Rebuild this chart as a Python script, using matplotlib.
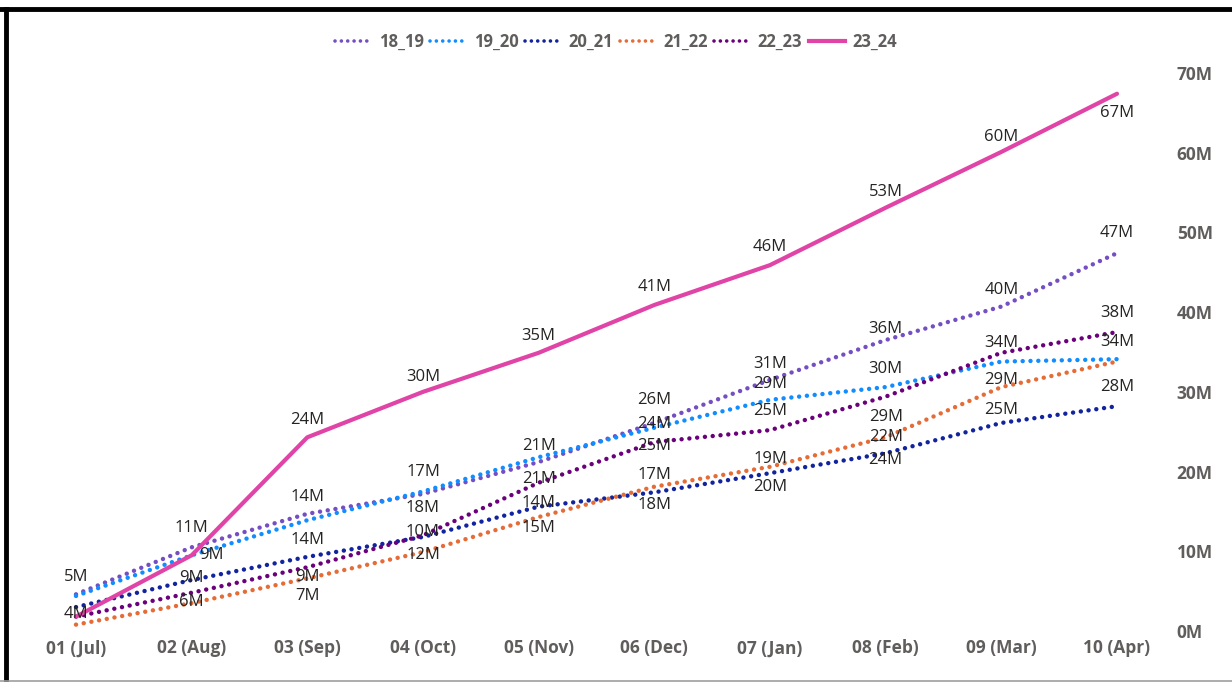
import matplotlib
matplotlib.use('Agg')
import matplotlib.pyplot as plt
from matplotlib.lines import Line2D

months = ['01 (Jul)', '02 (Aug)', '03 (Sep)', '04 (Oct)', '05 (Nov)',
          '06 (Dec)', '07 (Jan)', '08 (Feb)', '09 (Mar)', '10 (Apr)']

# values in millions
s18_19 = [4.6, 10.5, 14.7, 17.2, 21.2, 26.1, 31.5, 36.5, 40.7, 47.4]
s19_20 = [4.4, 9.5, 13.9, 17.5, 21.8, 25.5, 29.0, 30.6, 33.8, 34.1]
s20_21 = [3.0, 6.4, 9.3, 11.8, 15.6, 17.4, 19.8, 22.3, 26.1, 28.2]
s21_22 = [0.8, 3.5, 6.6, 9.9, 14.3, 18.1, 20.6, 24.3, 30.6, 33.8]
s22_23 = [1.8, 4.8, 8.0, 12.0, 18.6, 23.7, 25.2, 29.4, 34.9, 37.5]
s23_24 = [1.8, 9.5, 24.3, 30.0, 34.9, 40.9, 45.9, 53.1, 60.1, 67.4]

# data labels as shown (None = hidden by the chart)
lab18_19 = ['4M', '11M', '14M', '18M', '21M', '26M', '31M', '36M', '40M', '47M']
lab19_20 = ['5M', None, None, '17M', '21M', '24M', '29M', '30M', None, '34M']
lab20_21 = [None, '9M', '14M', '10M', '14M', '18M', '20M', '24M', '25M', '28M']
lab21_22 = [None, None, '7M', '12M', '15M', '17M', '19M', '22M', '29M', None]
lab22_23 = [None, '6M', '9M', None, None, '25M', '25M', '29M', '34M', '38M']
lab23_24 = [None, '9M', '24M', '30M', '35M', '41M', '46M', '53M', '60M', '67M']

yticks = [0, 10, 20, 30, 40, 50, 60, 70]

# label offsets in pixels (dx, dy with dy downward)
off18_19 = [(0, 20), (0, -19), (0, -17), (0, 14), (0, 17), (0, -23), (0, -16), (0, -11), (0, -17), (0, -20)]
off19_20 = [(0, -19), None, None, (0, -20), (0, -11), (0, -4), (0, -16), (0, -18), None, (0, -17)]
off20_21 = [None, (0, -2), (0, -17), (0, -5), (0, -4), (0, 13), (0, 14), (0, 7), (0, -13), (0, -19)]
off21_22 = [None, None, (0, 18), (0, 3), (0, 11), (0, -12), (0, -8), (0, 0), (0, -7), None]
off22_23 = [None, (0, 9), (0, 10), None, None, (0, 4), (0, -19), (0, 20), (0, -10), (0, -19)]
off23_24 = [None, (20, 0), (0, -17), (0, -15), (0, -17), (0, -18), (0, -18), (0, -16), (0, -15), (0, 19)]

series = [
    ('18_19', s18_19, lab18_19, off18_19, '#744EC2', 'dot'),
    ('19_20', s19_20, lab19_20, off19_20, '#118DFF', 'dot'),
    ('20_21', s20_21, lab20_21, off20_21, '#12239E', 'dot'),
    ('21_22', s21_22, lab21_22, off21_22, '#E66C37', 'dot'),
    ('22_23', s22_23, lab22_23, off22_23, '#6B007B', 'dot'),
    ('23_24', s23_24, lab23_24, off23_24, '#E044A7', 'solid'),
]

FONT = 'Open Sans'
GREY = '#605E5C'
DOTS = (0, (0.01, 1.75))

fig = plt.figure(figsize=(12.32, 6.82), dpi=100)
ax = fig.add_axes([76 / 1232, 51 / 682, 1041 / 1232, 558 / 682])

x = list(range(len(months)))
handles = []
for name, vals, labs, offs, col, kind in series:
    if kind == 'dot':
        ax.plot(x, vals, color=col, lw=3.2, linestyle=DOTS,
                dash_capstyle='round', clip_on=False, zorder=2)
        h = Line2D([], [], color=col, lw=2.6, linestyle=DOTS, dash_capstyle='round')
    else:
        ax.plot(x, vals, color=col, lw=3.0, solid_capstyle='round',
                clip_on=False, zorder=3)
        h = Line2D([], [], color=col, lw=3.0)
    handles.append(h)
    for i, (t, o) in enumerate(zip(labs, offs)):
        if t is None:
            continue
        ax.annotate(t, (i, vals[i]), xytext=(o[0], -o[1]), textcoords='offset pixels',
                    ha='center', va='center', fontsize=12, family=FONT,
                    color='#252423', zorder=4, annotation_clip=False)

ax.set_xlim(0, len(months) - 1)
ax.set_ylim(0, 70)
for sp in ax.spines.values():
    sp.set_visible(False)

ax.set_xticks(x)
ax.set_xticklabels(months, fontsize=12.5, fontweight='bold', family=FONT, color=GREY)
ax.tick_params(axis='x', length=0, pad=6)

ax.yaxis.tick_right()
ax.set_yticks(yticks)
ax.set_yticklabels([f'{v}M' for v in yticks], fontsize=12.5, fontweight='bold',
                   family=FONT, color=GREY)
ax.tick_params(axis='y', length=0, pad=43)

leg = fig.legend(handles, [s[0] for s in series], loc='center',
                 bbox_to_anchor=(0.5, 1 - 42 / 682), ncol=6, frameon=False,
                 handlelength=2.2, handletextpad=0.4, columnspacing=0.4,
                 prop={'family': FONT, 'weight': 'bold', 'size': 12})
for t in leg.get_texts():
    t.set_color(GREY)

# frame around the screenshot
fig.add_artist(Line2D([0, 1], [1 - 9 / 682, 1 - 9 / 682], color='black', lw=3.5,
                      transform=fig.transFigure))
fig.add_artist(Line2D([6 / 1232, 6 / 1232], [0, 1 - 9 / 682], color='black', lw=3.5,
                      transform=fig.transFigure))
fig.add_artist(Line2D([0, 1], [1.5 / 682, 1.5 / 682], color='#9E9E9E', lw=1.2,
                      transform=fig.transFigure))

fig.savefig('out.png', dpi=100)
